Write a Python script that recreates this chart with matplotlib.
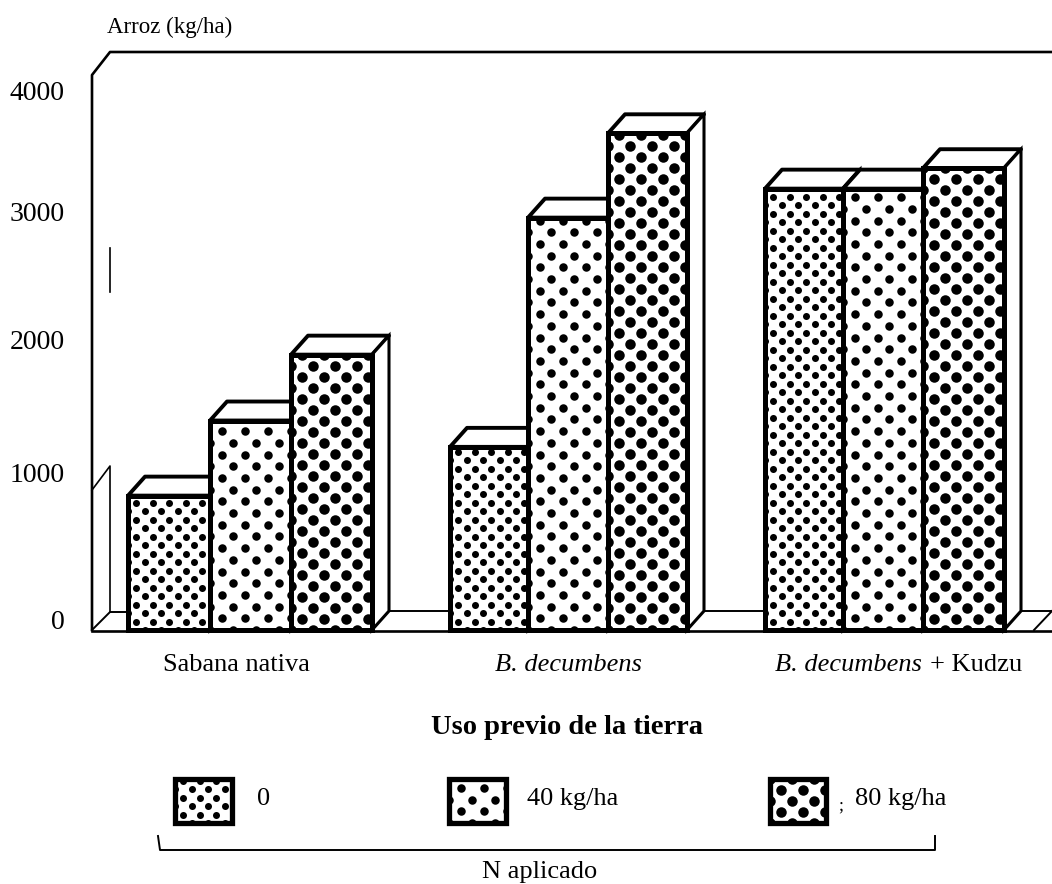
import numpy as np
import matplotlib
matplotlib.use('Agg')
import matplotlib.pyplot as plt
from matplotlib.patches import Rectangle, Polygon

plt.rcParams['font.family'] = ['Liberation Serif', 'DejaVu Serif']

# values (kg/ha)
sabana = [1020, 1590, 2090]
decumbens = [1390, 3130, 3770]
kudzu = [3350, 3350, 3505]
tick_labels = ['0', '1000', '2000', '3000', '4000']
tick_heights = [60, 1175, 2185, 3150, 4070]
legend_labels = ['0', '40 kg/ha', '80 kg/ha']

PX = 0.13175  # pixels per kg/ha
W, H = 1052, 884
Y0 = 630

fig = plt.figure(figsize=(W / 100, H / 100), dpi=100)
ax = fig.add_axes([0, 0, 1, 1])
ax.set_xlim(0, W)
ax.set_ylim(-(H - Y0) / PX, Y0 / PX)
ax.axis('off')


def py(pixel_y):
    # pixel row in the image -> value on the y scale
    return (Y0 - pixel_y) / PX


# (spacing x, spacing y, marker diameter) for each nitrogen level, in pixels
dot_styles = [(16.5, 8.5, 7), (23, 11.7, 8.5), (22, 11, 10.5)]


def dots(x0, x1, y0, y1, style, zorder):
    sx, sy, d = style
    xs, ys = [], []
    rows = np.arange(y0, y1 + sy / PX, sy / PX)
    for i, r in enumerate(rows):
        off = 0 if i % 2 == 0 else sx / 2
        for c in np.arange(x0 + off, x1 + sx, sx):
            xs.append(c)
            ys.append(r)
    clip = Rectangle((x0, y0), x1 - x0, y1 - y0, transform=ax.transData)
    pts = ax.scatter(xs, ys, s=(d * 0.72) ** 2, c='black', linewidths=0, zorder=zorder)
    pts.set_clip_path(clip)


def bar3d(x0, x1, value, level, zorder):
    dx, dy = 17, 19 / PX
    ax.add_patch(Polygon([(x0, value), (x0 + dx, value + dy), (x1 + dx, value + dy), (x1, value)],
                         fc='white', ec='black', lw=2.8, joinstyle='round', zorder=zorder))
    ax.add_patch(Polygon([(x1, 0), (x1 + dx, dy), (x1 + dx, value + dy), (x1, value)],
                         fc='white', ec='black', lw=2.2, zorder=zorder))
    ax.add_patch(Rectangle((x0, 0), x1 - x0, value, fc='white', ec='none', zorder=zorder + 0.1))
    dots(x0, x1, 0, value, dot_styles[level], zorder + 0.2)
    ax.add_patch(Rectangle((x0, 0), x1 - x0, value, fc='none', ec='black', lw=3.6, zorder=zorder + 0.3))


# back wall and floor
wall = [(92, py(630)), (92, py(75)), (110, py(52)), (1052, py(52))]
ax.plot(*zip(*wall), color='black', lw=1.9, zorder=1)
ax.plot([92, 1052], [py(631), py(631)], color='black', lw=1.9, zorder=30)
ax.plot([92, 110, 130], [py(630), py(612), py(612)], color='black', lw=1.4, zorder=1)
ax.plot([92, 110, 110], [py(490), py(466), py(612)], color='black', lw=1.2, zorder=1)
ax.plot([110, 110], [py(248), py(292)], color='black', lw=1.2, zorder=1)
for a, b in [(388, 450), (705, 765), (1022, 1052)]:
    ax.plot([a, b], [py(611), py(611)], color='black', lw=1.4, zorder=1)
ax.plot([1034, 1052], [py(630), py(611)], color='black', lw=1.4, zorder=1)

# bars
edges = [[128, 210, 291, 372], [450, 528, 608, 687], [765, 843, 923, 1004]]
z = 2
for group, vals in zip(edges, [sabana, decumbens, kudzu]):
    for i, v in enumerate(vals):
        bar3d(group[i], group[i + 1], v, i, z)
        z += 1

# y labels
for lab, h in zip(tick_labels, tick_heights):
    ax.text(65, h, lab, ha='right', va='center', fontsize=20)
ax.text(107, py(27), 'Arroz (kg/ha)', ha='left', va='center', fontsize=16.5)

# category and axis labels
ax.text(236, py(665), 'Sabana nativa', ha='center', va='center', fontsize=19)
ax.text(568, py(665), 'B. decumbens', ha='center', va='center', fontsize=19, style='italic')
ax.text(775, py(665), 'B. decumbens', ha='left', va='center', fontsize=19, style='italic')
ax.text(1022, py(665), '+ Kudzu', ha='right', va='center', fontsize=19)
ax.text(567, py(727), 'Uso previo de la tierra', ha='center', va='center',
        fontsize=20.5, fontweight='bold')

# legend
swatches = [(175, 232), (449, 506), (770, 826)]
text_x = [257, 527, 855]
for (a, b), tx, lab, st in zip(swatches, text_x, legend_labels, dot_styles):
    y0, y1 = py(823), py(779)
    ax.add_patch(Rectangle((a, y0), b - a, y1 - y0, fc='white', ec='none', zorder=20))
    dots(a, b, y0, y1, st, 21)
    ax.add_patch(Rectangle((a, y0), b - a, y1 - y0, fc='none', ec='black', lw=3.8, zorder=22))
    ax.text(tx, py(799), lab, ha='left', va='center', fontsize=19)
ax.text(838, py(806), ';', ha='left', va='center', fontsize=13)

# bracket under the legend
ax.plot([158, 160, 935, 935], [py(836), py(850), py(850), py(836)], color='black', lw=1.4)
ax.text(540, py(872), 'N aplicado', ha='center', va='center', fontsize=19)

fig.savefig('out.png', dpi=100)
